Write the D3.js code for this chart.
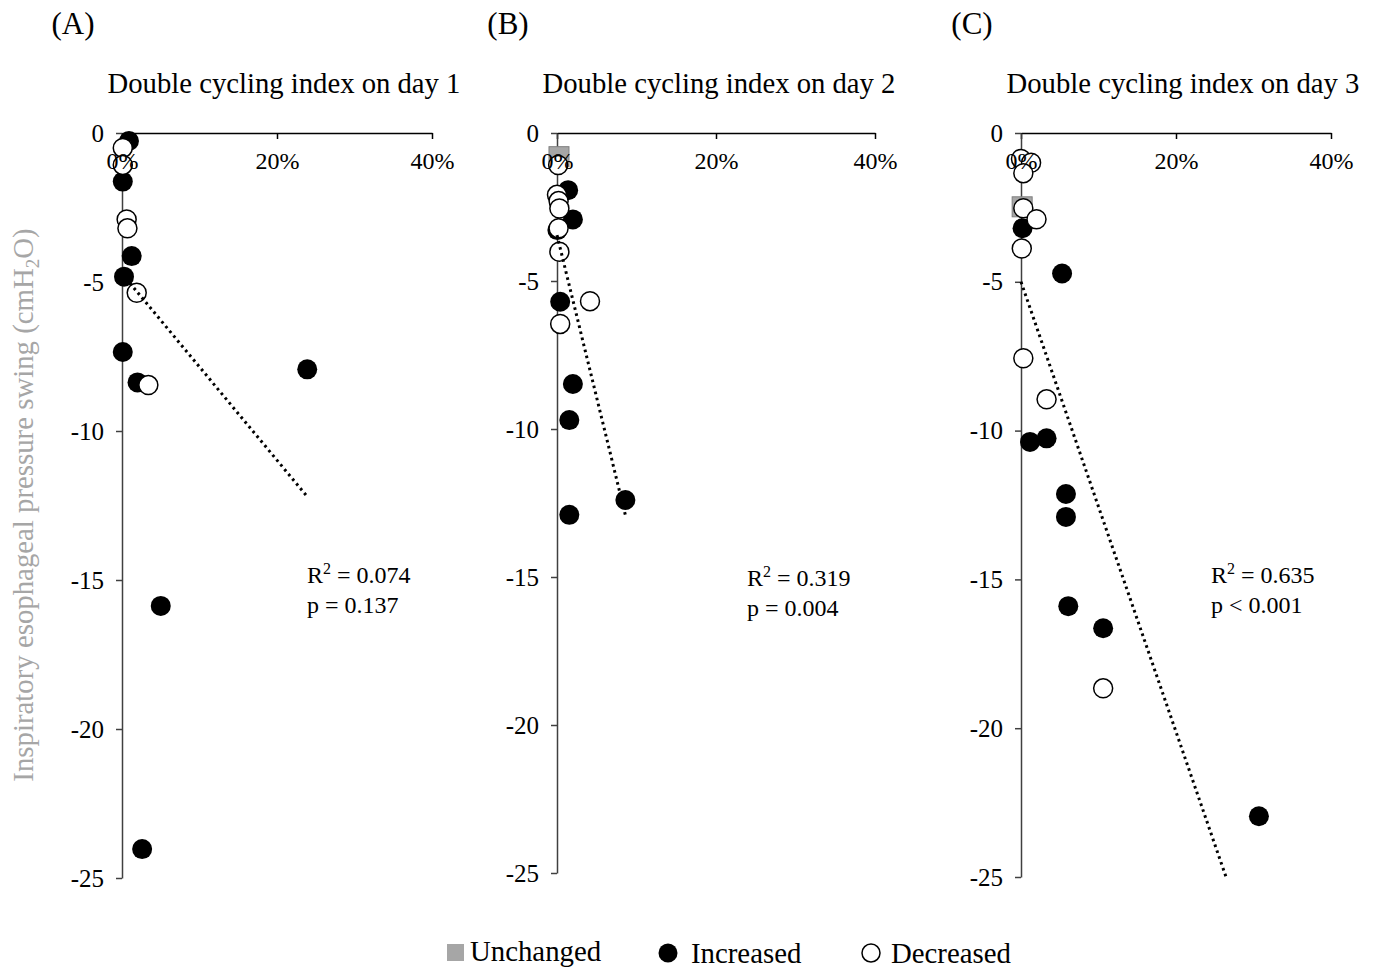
<!DOCTYPE html>
<html>
<head>
<meta charset="utf-8">
<script src="https://cdn.jsdelivr.net/npm/d3@7.9.0/dist/d3.min.js"></script>
<style>
  body { margin: 0; background: #fff; }
  svg { font-family: 'Liberation Serif', 'Times New Roman', serif; }
</style>
</head>
<body>
<svg id="chart" width="1377" height="968"></svg>
<script>
// ---- data ----
const panelLabels = ['(A)', '(B)', '(C)'];
const panelTitles = ['Double cycling index on day 1', 'Double cycling index on day 2', 'Double cycling index on day 3'];
const yTicks = [0, -5, -10, -15, -20, -25];
const xTicks = [0, 20, 40];

// [double cycling index %, inspiratory esophageal pressure swing cmH2O]
const day1Unchanged = [];
const day1Increased = [[0.9, -0.27], [0.1, -1.63], [1.25, -4.13], [0.26, -4.82], [0.1, -7.35], [2.0, -8.37], [23.9, -7.93], [5.0, -15.87], [2.6, -24.03]];
const day1Decreased = [[0.1, -0.5], [0.1, -1.07], [0.6, -2.9], [0.7, -3.2], [1.9, -5.36], [3.4, -8.46]];

const day2Unchanged = [[0.25, -0.8]];
const day2Increased = [[1.4, -1.93], [2.0, -2.92], [0.05, -3.28], [0.4, -5.7], [2.0, -8.48], [1.55, -9.7], [1.55, -12.9], [8.6, -12.4]];
const day2Decreased = [[0.15, -1.08], [0, -2.09], [0.2, -2.3], [0.3, -2.55], [0.2, -3.22], [0.3, -4.01], [4.15, -5.68], [0.4, -6.45]];

const day3Unchanged = [[0.15, -2.48]];
const day3Increased = [[0.2, -3.2], [5.3, -4.72], [1.16, -10.38], [3.3, -10.26], [5.8, -12.13], [5.8, -12.9], [6.1, -15.9], [10.6, -16.64], [30.7, -22.96]];
const day3Decreased = [[0, -0.87], [1.3, -1.0], [0.3, -1.35], [0.3, -2.53], [2.0, -2.9], [0.1, -3.88], [0.3, -7.57], [3.3, -8.95], [10.6, -18.66]];

// linear trend lines (as drawn)
const trendIntercepts = [-4.72, -3.45, -5.0];
const trendSlopes = [-0.313, -1.10, -0.756];
const r2Values = ['0.074', '0.319', '0.635'];
const pValues = ['p = 0.137', 'p = 0.004', 'p < 0.001'];

const legendLabels = ['Unchanged', 'Increased', 'Decreased'];

// ---- layout ----
const panels = [
  { left: 122, width: 310, height: 745, unchanged: day1Unchanged, increased: day1Increased, decreased: day1Decreased, statX: 307, statY: 583 },
  { left: 557, width: 318, height: 740, unchanged: day2Unchanged, increased: day2Increased, decreased: day2Decreased, statX: 747, statY: 586 },
  { left: 1021, width: 310, height: 744, unchanged: day3Unchanged, increased: day3Increased, decreased: day3Decreased, statX: 1211, statY: 583 }
];
const plotTop = 133;

const svg = d3.select('#chart');

panels.forEach((p, i) => {
  const x = d3.scaleLinear().domain([0, 40]).range([p.left, p.left + p.width]);
  const y = d3.scaleLinear().domain([-25, 0]).range([plotTop + p.height, plotTop]);

  const g = svg.append('g');

  // panel letter + title
  g.append('text')
    .attr('x', p.left - 49).attr('y', 34)
    .attr('text-anchor', 'middle')
    .attr('font-size', 31)
    .text(panelLabels[i]);
  g.append('text')
    .attr('x', p.left + 162).attr('y', 93)
    .attr('text-anchor', 'middle')
    .attr('font-size', 28.7)
    .text(panelTitles[i]);

  // axis lines (under the markers)
  const xAxis = d3.axisTop(x).tickValues(xTicks).tickSizeOuter(0).tickSizeInner(-6).tickFormat('');
  const yAxis = d3.axisLeft(y).tickValues(yTicks).tickSizeOuter(0).tickSizeInner(6).tickFormat('');

  g.append('g').attr('transform', `translate(0,${y(0)})`).call(xAxis)
    .call(a => a.selectAll('path,line').attr('stroke', '#000').attr('stroke-width', 1.5));
  g.append('g').attr('transform', `translate(${x(0)},0)`).call(yAxis)
    .call(a => a.selectAll('path,line').attr('stroke', '#404040').attr('stroke-width', 1.5));

  // markers: unchanged, increased, decreased
  g.append('g').selectAll('rect')
    .data(p.unchanged).join('rect')
      .attr('x', d => x(d[0]) - 10)
      .attr('y', d => y(d[1]) - 10)
      .attr('width', 20).attr('height', 20)
      .attr('fill', '#a6a6a6')
      .attr('stroke', '#7f7f7f')
      .attr('stroke-width', 1);

  g.append('g').selectAll('circle')
    .data(p.increased).join('circle')
      .attr('cx', d => x(d[0]))
      .attr('cy', d => y(d[1]))
      .attr('r', 10)
      .attr('fill', '#000');

  g.append('g').selectAll('circle')
    .data(p.decreased).join('circle')
      .attr('cx', d => x(d[0]))
      .attr('cy', d => y(d[1]))
      .attr('r', 9.5)
      .attr('fill', '#fff')
      .attr('stroke', '#000')
      .attr('stroke-width', 1.5);

  // trend line from x=0 to largest x, cut at the axis bottom
  const all = p.unchanged.concat(p.increased, p.decreased);
  const xMax = d3.max(all, d => d[0]);
  const fn = v => trendIntercepts[i] + trendSlopes[i] * v;
  const xEnd = Math.min(xMax, (-25 - trendIntercepts[i]) / trendSlopes[i]);
  g.append('path')
    .datum([0, xEnd])
    .attr('fill', 'none')
    .attr('stroke', '#000')
    .attr('stroke-width', 3)
    .attr('stroke-dasharray', '2.6,3.6')
    .attr('d', d3.line().x(v => x(v)).y(v => y(fn(v))));

  // tick labels on top
  g.append('g').attr('transform', `translate(0,${y(0)})`)
    .call(d3.axisBottom(x).tickValues(xTicks).tickSize(0).tickPadding(19).tickFormat(d => d + '%'))
    .call(a => a.select('.domain').remove())
    .call(a => a.selectAll('text').attr('font-size', 24).attr('font-family', 'Liberation Serif').attr('fill', '#000'));
  g.append('g').attr('transform', `translate(${x(0)},0)`)
    .call(d3.axisLeft(y).tickValues(yTicks).tickSize(0).tickPadding(18).tickFormat(d => String(d)))
    .call(a => a.select('.domain').remove())
    .call(a => a.selectAll('text').attr('font-size', 25).attr('font-family', 'Liberation Serif').attr('fill', '#000'));

  // statistics
  const st = g.append('text').attr('x', p.statX).attr('y', p.statY).attr('font-size', 24);
  st.append('tspan').text('R');
  st.append('tspan').attr('dy', -9).attr('font-size', 16).text('2');
  st.append('tspan').attr('dy', 9).text(' = ' + r2Values[i]);
  g.append('text').attr('x', p.statX).attr('y', p.statY + 30).attr('font-size', 24).text(pValues[i]);
});

// y axis title
const yt = svg.append('text')
  .attr('transform', 'translate(33,505) rotate(-90)')
  .attr('text-anchor', 'middle')
  .attr('font-size', 28.8)
  .attr('fill', '#a6a6a6');
yt.append('tspan').text('Inspiratory esophageal pressure swing (cmH');
yt.append('tspan').attr('font-size', 19).attr('dy', 6).text('2');
yt.append('tspan').attr('dy', -6).text('O)');

// legend
const lg = svg.append('g');
lg.append('rect').attr('x', 447).attr('y', 944).attr('width', 17).attr('height', 17).attr('fill', '#a6a6a6');
lg.append('text').attr('x', 470).attr('y', 961).attr('font-size', 28.8).text(legendLabels[0]);
lg.append('circle').attr('cx', 668).attr('cy', 953).attr('r', 9.5).attr('fill', '#000');
lg.append('text').attr('x', 691).attr('y', 963).attr('font-size', 28.8).text(legendLabels[1]);
lg.append('circle').attr('cx', 871).attr('cy', 953).attr('r', 9).attr('fill', '#fff').attr('stroke', '#000').attr('stroke-width', 1.5);
lg.append('text').attr('x', 891).attr('y', 963).attr('font-size', 28.8).text(legendLabels[2]);
</script>
</body>
</html>
